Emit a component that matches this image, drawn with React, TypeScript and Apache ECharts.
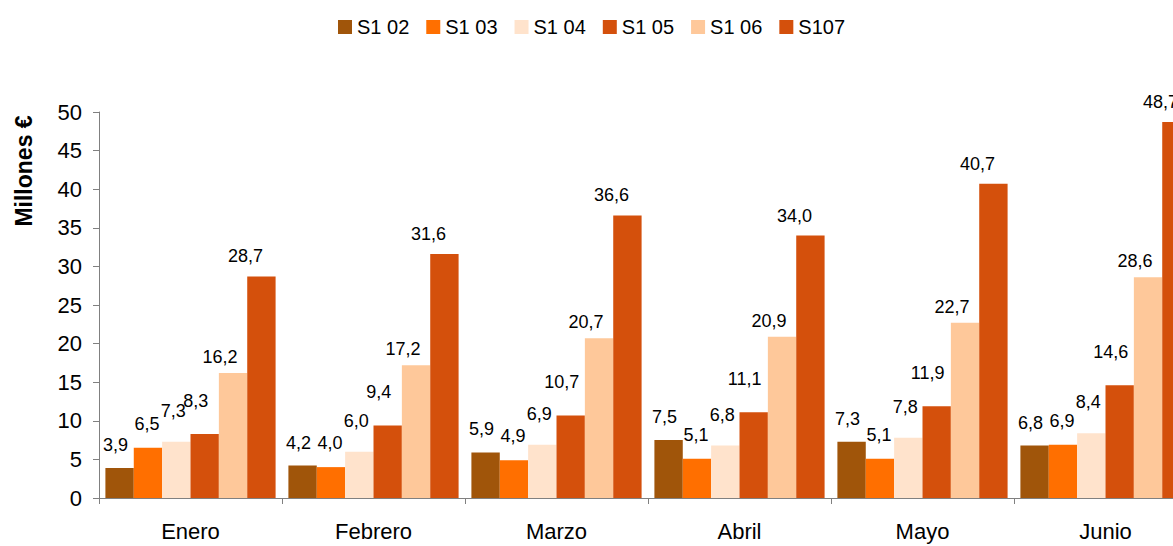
import React, { useEffect, useRef } from "react";
import * as echarts from "echarts";

const categories = ["Enero", "Febrero", "Marzo", "Abril", "Mayo", "Junio"];
const seriesNames = ["S1 02", "S1 03", "S1 04", "S1 05", "S1 06", "S107"];
const s102 = [3.9, 4.2, 5.9, 7.5, 7.3, 6.8];
const s103 = [6.5, 4.0, 4.9, 5.1, 5.1, 6.9];
const s104 = [7.3, 6.0, 6.9, 6.8, 7.8, 8.4];
const s105 = [8.3, 9.4, 10.7, 11.1, 11.9, 14.6];
const s106 = [16.2, 17.2, 20.7, 20.9, 22.7, 28.6];
const s107 = [28.7, 31.6, 36.6, 34.0, 40.7, 48.7];
const seriesValues = [s102, s103, s104, s105, s106, s107];
const yTicks = { min: 0, max: 50, interval: 5 };
const yTitle = "Millones €";

// styling (not data)
const colors = ["#A0550A", "#FF6F00", "#FFE3CC", "#D4500C", "#FEC89A", "#D4500C"];
const labelShift = [
  [-4, -2],
  [-1, -3],
  [-3, -10],
  [-9, -12],
  [-13, 5],
  [-16, 1],
];

const FONT = "Liberation Sans, Arial, sans-serif";

export default function App() {
  const ref = useRef<HTMLDivElement>(null);
  useEffect(() => {
    if (!ref.current) return;
    const chart = echarts.init(ref.current, null, { renderer: "svg" });
    chart.setOption({
      animation: false,
      backgroundColor: "#ffffff",
      textStyle: { fontFamily: FONT },
      legend: {
        data: seriesNames,
        left: 338,
        top: 17,
        padding: 0,
        itemWidth: 14,
        itemHeight: 14,
        itemGap: 17,
        icon: "rect",
        textStyle: { fontSize: 20, color: "#000", fontFamily: FONT },
      },
      graphic: [
        {
          type: "text",
          x: 24,
          y: 171,
          rotation: Math.PI / 2,
          style: {
            text: yTitle,
            font: `bold 23px ${FONT}`,
            fill: "#000",
            align: "center",
            verticalAlign: "middle",
          },
        },
      ],
      grid: { left: 99, top: 112, height: 386, width: 1098, outerBoundsMode: "none", containLabel: false },
      xAxis: {
        type: "category",
        data: categories,
        axisLine: { lineStyle: { color: "#808080", width: 1 } },
        axisTick: { show: true, length: 6, lineStyle: { color: "#808080" } },
        axisLabel: { fontSize: 22, color: "#000", margin: 22, fontFamily: FONT },
      },
      yAxis: {
        type: "value",
        min: yTicks.min,
        max: yTicks.max,
        interval: yTicks.interval,
        splitLine: { show: false },
        axisLine: { show: true, lineStyle: { color: "#808080", width: 1 } },
        axisTick: { show: true, length: 6, lineStyle: { color: "#808080" } },
        axisLabel: { fontSize: 22, color: "#000", margin: 17, fontFamily: FONT },
      },
      series: seriesNames.map((name, i) => ({
        name,
        type: "bar",
        data: seriesValues[i],
        barGap: "0%",
        barCategoryGap: "7%",
        itemStyle: { color: colors[i] },
        label: {
          show: true,
          position: "top",
          distance: 12,
          offset: labelShift[i],
          fontSize: 18,
          color: "#000",
          fontFamily: FONT,
          formatter: (p: any) => Number(p.value).toFixed(1).replace(".", ","),
        },
      })),
    });
    return () => chart.dispose();
  }, []);
  return (
    <div
      ref={ref}
      style={{ position: "fixed", left: 0, top: 0, width: 1173, height: 546, background: "#fff" }}
    />
  );
}
